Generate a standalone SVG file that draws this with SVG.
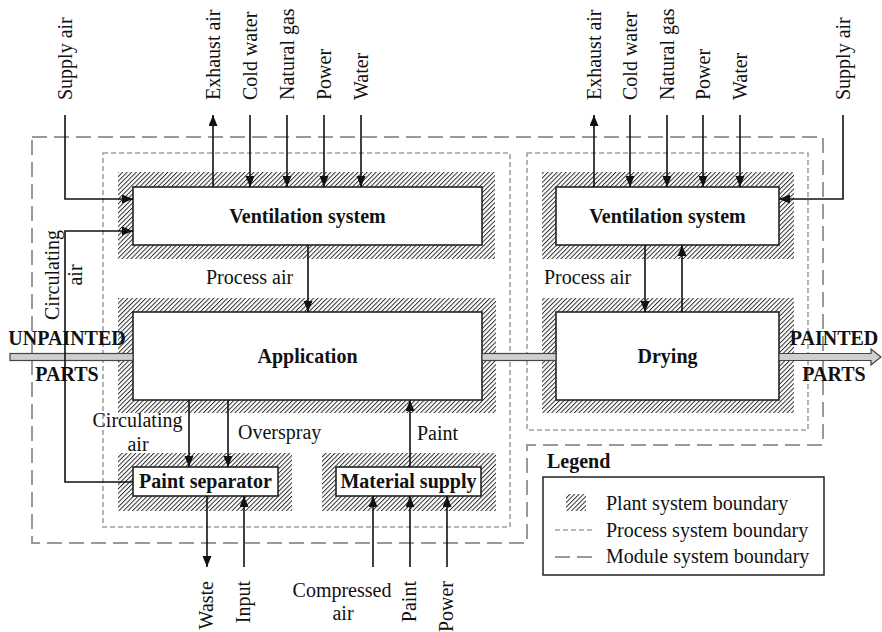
<svg xmlns="http://www.w3.org/2000/svg" width="882" height="632" viewBox="0 0 882 632">
<defs>
<pattern id="hatch" width="3.2" height="3.2" patternUnits="userSpaceOnUse" patternTransform="rotate(45)">
<rect width="3.2" height="3.2" fill="#fff"/>
<line x1="0.5" y1="0" x2="0.5" y2="3.2" stroke="#1a1a1a" stroke-width="0.9"/>
</pattern>
<marker id="ah" markerUnits="userSpaceOnUse" markerWidth="12" markerHeight="10" refX="11" refY="4.5" orient="auto">
<path d="M0,0 L11,4.5 L0,9 z" fill="#111"/>
</marker>
<style>
text{font-family:"Liberation Serif","Times New Roman",serif;font-size:20px;fill:#111}
.b{font-weight:bold}
.m{text-anchor:middle}
.e{text-anchor:end}
.box{fill:#fff;stroke:#222;stroke-width:1.6}
.plant{fill:url(#hatch)}
.proc{fill:none;stroke:#a0a0a0;stroke-width:1.6;stroke-dasharray:5,3}
.mod{fill:none;stroke:#9a9a9a;stroke-width:2;stroke-dasharray:15,7}
.c{fill:none;stroke:#111;stroke-width:1.6}
.a{marker-end:url(#ah)}
.bar{fill:#cfcfcf;stroke:#444;stroke-width:1.2}
</style>
</defs>
<rect width="882" height="632" fill="#fff"/>

<g id="boundaries">
<path class="mod" d="M32,137 H823 V445 H527 V543 H32 Z"/>
<rect class="proc" x="103" y="153" width="407" height="374"/>
<rect class="proc" x="527" y="153" width="281" height="277"/>
</g>

<g id="vent-left">
<rect class="plant" x="118" y="172" width="377" height="87"/>
<rect class="box" x="133" y="187" width="349" height="58"/>
<text class="b m" x="307.5" y="223">Ventilation system</text>
</g>
<g id="application">
<rect class="plant" x="118" y="298" width="378" height="115"/>
<rect class="box" x="133" y="312" width="349" height="88"/>
<text class="b m" x="307.5" y="363">Application</text>
</g>
<g id="vent-right">
<rect class="plant" x="542" y="172" width="252" height="87"/>
<rect class="box" x="556" y="187" width="223" height="58"/>
<text class="b m" x="667.5" y="223">Ventilation system</text>
</g>
<g id="drying">
<rect class="plant" x="542" y="298" width="252" height="115"/>
<rect class="box" x="556" y="312" width="223" height="88"/>
<text class="b m" x="667.5" y="363">Drying</text>
</g>
<g id="paint-separator">
<rect class="plant" x="118" y="453" width="174" height="58"/>
<rect class="box" x="133" y="467" width="145" height="29"/>
<text class="b m" x="205.5" y="488">Paint separator</text>
</g>
<g id="material-supply">
<rect class="plant" x="322" y="453" width="174" height="58"/>
<rect class="box" x="336" y="467" width="145" height="29"/>
<text class="b m" x="408.5" y="488">Material supply</text>
</g>

<g id="parts-flow">
<rect class="bar" x="10" y="353.5" width="123" height="7"/>
<rect class="bar" x="482" y="353.5" width="74" height="7"/>
<polygon class="bar" points="779,353.5 871,353.5 871,349 881,357 871,365 871,360.5 779,360.5"/>
<text class="b m" x="67" y="345">UNPAINTED</text>
<text class="b m" x="67" y="381">PARTS</text>
<text class="b m" x="834" y="345">PAINTED</text>
<text class="b m" x="834" y="381">PARTS</text>
</g>

<g id="connectors">
<path class="c a" d="M65,115 V199 H133"/>
<path class="c a" d="M213,187 V115"/>
<path class="c a" d="M250,115 V187"/>
<path class="c a" d="M287,115 V187"/>
<path class="c a" d="M324,115 V187"/>
<path class="c a" d="M361,115 V187"/>
<path class="c a" d="M594,187 V115"/>
<path class="c a" d="M630,115 V187"/>
<path class="c a" d="M667,115 V187"/>
<path class="c a" d="M703,115 V187"/>
<path class="c a" d="M740,115 V187"/>
<path class="c a" d="M843,115 V199 H779"/>
<path class="c a" d="M133,482 H65 V231 H133"/>
<path class="c a" d="M308,245 V312"/>
<path class="c a" d="M645,245 V312"/>
<path class="c a" d="M682,312 V245"/>
<path class="c a" d="M189,400 V467"/>
<path class="c a" d="M228,400 V467"/>
<path class="c a" d="M410,467 V400"/>
<path class="c a" d="M207,496 V567"/>
<path class="c a" d="M244,567 V496"/>
<path class="c a" d="M373,567 V496"/>
<path class="c a" d="M410,567 V496"/>
<path class="c a" d="M447,567 V496"/>
</g>

<g id="labels">
<text transform="translate(72,100) rotate(-90)">Supply air</text>
<text transform="translate(220,100) rotate(-90)">Exhaust air</text>
<text transform="translate(257,100) rotate(-90)">Cold water</text>
<text transform="translate(294,100) rotate(-90)">Natural gas</text>
<text transform="translate(331,100) rotate(-90)">Power</text>
<text transform="translate(368,100) rotate(-90)">Water</text>
<text transform="translate(601,100) rotate(-90)">Exhaust air</text>
<text transform="translate(637,100) rotate(-90)">Cold water</text>
<text transform="translate(674,100) rotate(-90)">Natural gas</text>
<text transform="translate(710,100) rotate(-90)">Power</text>
<text transform="translate(747,100) rotate(-90)">Water</text>
<text transform="translate(850,100) rotate(-90)">Supply air</text>
<text class="m" transform="translate(59,275) rotate(-90)">Circulating</text>
<text class="m" transform="translate(82,275) rotate(-90)">air</text>
<text x="206" y="284">Process air</text>
<text x="544" y="284">Process air</text>
<text class="m" x="137.5" y="427">Circulating</text>
<text class="m" x="138" y="451">air</text>
<text x="238" y="439">Overspray</text>
<text x="417" y="440">Paint</text>
<text class="e" transform="translate(213,581) rotate(-90)">Waste</text>
<text class="e" transform="translate(250,581) rotate(-90)">Input</text>
<text class="m" x="342" y="597">Compressed</text>
<text class="m" x="343" y="620">air</text>
<text class="e" transform="translate(416,581) rotate(-90)">Paint</text>
<text class="e" transform="translate(453,581) rotate(-90)">Power</text>
</g>

<g id="legend">
<text class="b" x="547" y="468">Legend</text>
<rect x="543" y="477" width="281" height="98" fill="none" stroke="#222" stroke-width="1.5"/>
<rect class="plant" x="566" y="494" width="20" height="17"/>
<line x1="555" y1="530" x2="595" y2="530" stroke="#a0a0a0" stroke-width="1.6" stroke-dasharray="5,3"/>
<line x1="555" y1="557" x2="597" y2="557" stroke="#9a9a9a" stroke-width="2" stroke-dasharray="15,7"/>
<text x="606" y="510">Plant system boundary</text>
<text x="606" y="537">Process system boundary</text>
<text x="606" y="563">Module system boundary</text>
</g>
</svg>
